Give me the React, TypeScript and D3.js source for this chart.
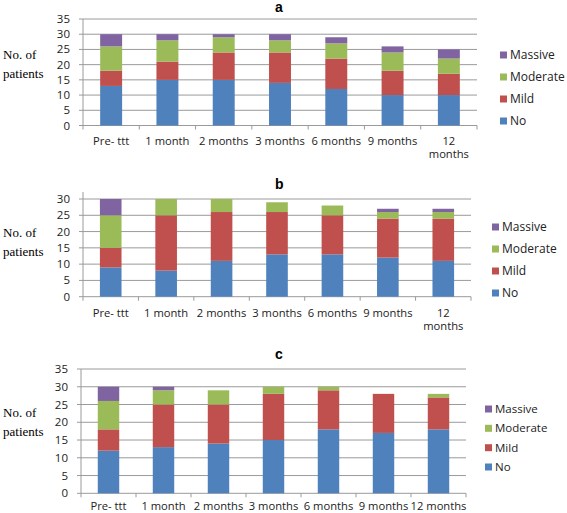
import React from "react";
import * as d3 from "d3";

const categories = ["Pre- ttt", "1 month", "2 months", "3 months", "6 months", "9 months", "12 months"];
const seriesNames = ["No", "Mild", "Moderate", "Massive"];
const colors = ["#4F81BD", "#C0504D", "#9BBB59", "#8064A2"];

const aNo = [13, 15, 15, 14, 12, 10, 10];
const aMild = [5, 6, 9, 10, 10, 8, 7];
const aModerate = [8, 7, 5, 4, 5, 6, 5];
const aMassive = [4, 2, 1, 2, 2, 2, 3];

const bNo = [9, 8, 11, 13, 13, 12, 11];
const bMild = [6, 17, 15, 13, 12, 12, 13];
const bModerate = [10, 5, 4, 3, 3, 2, 2];
const bMassive = [5, 0, 0, 0, 0, 1, 1];

const cNo = [12, 13, 14, 15, 18, 17, 18];
const cMild = [6, 12, 11, 13, 11, 11, 9];
const cModerate = [8, 4, 4, 2, 1, 0, 1];
const cMassive = [4, 1, 0, 0, 0, 0, 0];

const ticksA = [0, 5, 10, 15, 20, 25, 30, 35];
const ticksB = [0, 5, 10, 15, 20, 25, 30];
const ticksC = [0, 5, 10, 15, 20, 25, 30, 35];

type PanelProps = {
  title: string;
  data: number[][];
  ticks: number[];
  yMax: number;
  x0: number; x1: number; yTopPx: number; y0: number; axisTop: number;
  labelY: number; splitLast: boolean;
  legendX: number; legendY: number[]; legendSize: number;
  titleX: number; titleY: number;
  yTitleY: number;
};

function Panel(p: PanelProps) {
  const x = d3.scaleBand<string>().domain(categories).range([p.x0, p.x1]).paddingInner(0.61).paddingOuter(0.305);
  const y = d3.scaleLinear().domain([0, p.yMax]).range([p.y0, p.yTopPx]);
  const rows = categories.map((c, i) => {
    const o: any = { cat: c };
    seriesNames.forEach((s, j) => (o[s] = p.data[j][i]));
    return o;
  });
  const stacked = d3.stack<any>().keys(seriesNames)(rows);
  const band = (p.x1 - p.x0) / categories.length;
  const font = "'Open Sans', sans-serif";
  return (
    <g>
      <text x={p.titleX} y={p.titleY} fontFamily="Arial, 'Liberation Sans', sans-serif" fontWeight="bold" fontSize={14} fill="#000">{p.title}</text>
      <text x={3} y={p.yTitleY} fontFamily="'Liberation Serif', 'Times New Roman', serif" fontSize={13} fill="#000">No. of</text>
      <text x={3} y={p.yTitleY + 18.5} fontFamily="'Liberation Serif', 'Times New Roman', serif" fontSize={13} fill="#000">patients</text>
      {p.ticks.map((t) => (
        <g key={t}>
          {t > 0 && <line x1={p.x0} x2={p.x1} y1={y(t)} y2={y(t)} stroke="#9a9a9a" strokeWidth={1} />}
          <line x1={p.x0 - 4} x2={p.x0} y1={y(t)} y2={y(t)} stroke="#9a9a9a" />
          <text x={p.x0 - 13} y={y(t)} dy="0.35em" textAnchor="end" fontFamily={font} fontSize={11.5} fill="#222">{t}</text>
        </g>
      ))}
      <line x1={p.x0} x2={p.x0} y1={p.axisTop} y2={p.y0} stroke="#9a9a9a" />
      <line x1={p.x0} x2={p.x1} y1={p.y0} y2={p.y0} stroke="#9a9a9a" />
      {d3.range(categories.length + 1).map((i) => (
        <line key={i} x1={p.x0 + i * band} x2={p.x0 + i * band} y1={p.y0} y2={p.y0 + 4} stroke="#9a9a9a" />
      ))}
      {stacked.map((s, j) => (
        <g key={s.key} fill={colors[j]}>
          {s.map((d, i) => (d[1] - d[0] > 0 ? (
            <rect key={i} x={x(categories[i])} width={x.bandwidth()} y={y(d[1])} height={y(d[0]) - y(d[1])} />
          ) : null))}
        </g>
      ))}
      {categories.map((c, i) => {
        const cx = (x(c) as number) + x.bandwidth() / 2;
        if (p.splitLast && i === categories.length - 1) {
          const parts = c.split(" ");
          return (
            <g key={c}>
              <text x={cx} y={p.labelY} dy="0.35em" textAnchor="middle" fontFamily={font} fontSize={11.2} fill="#222">{parts[0]}</text>
              <text x={cx} y={p.labelY + 13} dy="0.35em" textAnchor="middle" fontFamily={font} fontSize={11.2} fill="#222">{parts[1]}</text>
            </g>
          );
        }
        return (
          <text key={c} x={cx} y={p.labelY} dy="0.35em" textAnchor="middle" fontFamily={font} fontSize={11.2} fill="#222">{c}</text>
        );
      })}
      {["Massive", "Moderate", "Mild", "No"].map((name, k) => {
        const j = seriesNames.indexOf(name);
        return (
          <g key={name}>
            <rect x={p.legendX} y={p.legendY[k] - 3.5} width={7} height={7} fill={colors[j]} />
            <text x={p.legendX + 10} y={p.legendY[k]} dy="0.35em" fontFamily={font} fontSize={p.legendSize} fill="#222">{name}</text>
          </g>
        );
      })}
    </g>
  );
}

export default function App() {
  return (
    <svg width={567} height={513} style={{ position: "absolute", left: 0, top: 0, background: "#fff" }}>
      <rect width={567} height={513} fill="#fff" />
      <Panel title="a" data={[aNo, aMild, aModerate, aMassive]} ticks={ticksA} yMax={35}
        x0={83} x1={477} yTopPx={19} y0={125.5} axisTop={19} labelY={141.5} splitLast={true}
        legendX={500} legendY={[55, 77, 99, 121]} legendSize={12}
        titleX={275} titleY={12} yTitleY={59} />
      <Panel title="b" data={[bNo, bMild, bModerate, bMassive]} ticks={ticksB} yMax={30}
        x0={83} x1={471} yTopPx={199} y0={296.7} axisTop={192} labelY={313} splitLast={true}
        legendX={492} legendY={[227, 249, 271, 293]} legendSize={12}
        titleX={275} titleY={189} yTitleY={237} />
      <Panel title="c" data={[cNo, cMild, cModerate, cMassive]} ticks={ticksC} yMax={35}
        x0={81} x1={466} yTopPx={369} y0={493.3} axisTop={369} labelY={506.5} splitLast={false}
        legendX={485} legendY={[409, 428.3, 447.7, 467]} legendSize={11.5}
        titleX={275} titleY={359} yTitleY={417} />
    </svg>
  );
}
